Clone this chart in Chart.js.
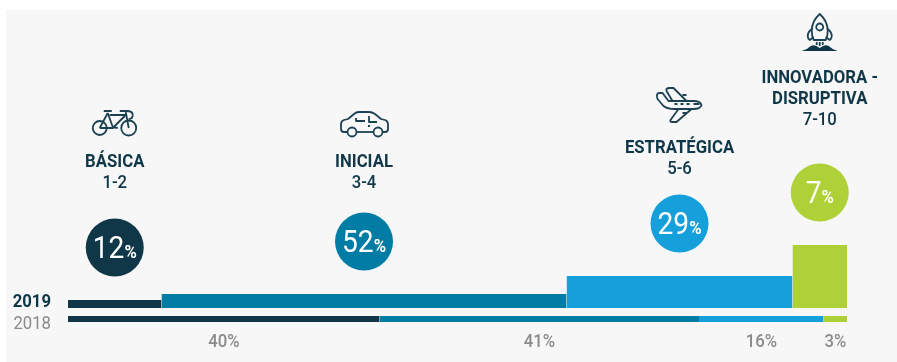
<!DOCTYPE html>
<html>
<head>
<meta charset="utf-8">
<script src="https://cdn.jsdelivr.net/npm/chart.js@4"></script>
<style>
    html, body { margin: 0; padding: 0; background: #fff; overflow: hidden; }
    #panel { position: absolute; left: 6px; top: 10px; right: 0; bottom: 0; background: #f7f7f7; }
    #wrap { position: absolute; left: 0; top: 0; width: 897px; height: 362px; }
</style>
</head>
<body>
<div id="panel"></div>
<div id="wrap"><canvas id="chart"></canvas></div>
<script>
const levels = ['BÁSICA', 'INICIAL', 'ESTRATÉGICA', 'INNOVADORA -|DISRUPTIVA'];
const ranges = ['1-2', '3-4', '5-6', '7-10'];
const years = ['2019', '2018'];
const shares2019 = [12, 52, 29, 7];
const shares2018 = [40, 41, 16, 3];
const heights2019 = [8, 14, 32, 63];
const colors = ['#0f3748', '#007ca5', '#159fdb', '#add136'];

const DARK = '#0f3748';
const GREY = '#8b8b8b';
const FONT = 'Roboto, sans-serif';
const NARROW = 0.88;

// the 2018 strip hangs under the baseline
const strip2018Top = -8;
const strip2018Bottom = -14;
const circleGap = 52.5;

// baseline of the first heading line per level, in canvas pixels
const headingY = [167, 167, 153, 83];

function edges(shares) {
    let sum = 0;
    return shares.map(function (s) {
        const from = sum;
        sum += s;
        return [from, sum];
    });
}

// text squeezed horizontally, the installed faces run wide
function narrowText(ctx, str, x, y, align) {
    ctx.save();
    ctx.translate(x, y);
    ctx.scale(NARROW, 1);
    ctx.textAlign = align || 'center';
    ctx.fillText(str, 0, 0);
    ctx.restore();
}

const datasets = [];

edges(shares2019).forEach(function (e, i) {
    datasets.push({
        data: [{ x: e[0], y: heights2019[i] }, { x: e[1], y: heights2019[i] }],
        backgroundColor: colors[i],
        borderWidth: 0,
        pointRadius: 0,
        fill: { value: 0 }
    });
});

edges(shares2018).forEach(function (e, i) {
    datasets.push({
        data: [{ x: e[0], y: strip2018Top }, { x: e[1], y: strip2018Top }],
        backgroundColor: colors[i],
        borderWidth: 0,
        pointRadius: 0,
        fill: { value: strip2018Bottom }
    });
});

// value bubbles sit over the middle of each 2019 block
datasets.push({
    data: edges(shares2019).map(function (e, i) {
        return { x: (e[0] + e[1]) / 2, y: heights2019[i] + circleGap };
    }),
    showLine: false,
    clip: false,
    pointRadius: 29,
    pointHoverRadius: 29,
    pointBorderWidth: 0,
    pointBackgroundColor: colors,
    pointBorderColor: colors
});

// line icons, drawn around their own centre
const icons = [
    {
        y: 122,
        paths: [
            'M-8 6a7 7 0 1 0 -14 0a7 7 0 1 0 14 0z',
            'M21.5 6a7.5 7.5 0 1 0 -15 0a7.5 7.5 0 1 0 15 0z',
            'M-15 6L-7 -9M-7 -9L-2 5M-15 6H-2L11 -7H-5M-2 5L3 6',
            'M11 -10L14 6M-11 -11H-3M5 -11H12Q18 -11 18 -7Q18 -3 14 -3'
        ]
    },
    {
        y: 124,
        paths: [
            'M-17 8H-20Q-23 8 -23 5V0Q-23 -3 -20 -4L-16 -5L-10 -10Q-8 -12 -5 -12H5Q8 -12 11 -10L17 -5L21 -4Q24 -3 24 1V5Q24 8 21 8H19',
            'M-7 8H9',
            'M-7.5 8a4.5 4.5 0 1 0 -9 0a4.5 4.5 0 1 0 9 0z',
            'M18.5 8a4.5 4.5 0 1 0 -9 0a4.5 4.5 0 1 0 9 0z',
            'M-8 -6V-3H1M5 -8V-2H13M4 2H6'
        ]
    },
    {
        y: 104,
        paths: [
            'M-11 -3H14Q21 -3 22 1Q21 5 14 5H-5Q-12 5 -16 2L-22 -5Q-24 -11 -20 -11H-17Z',
            'M-7 -3L-13 -13Q-14 -16 -10 -16H-6L7 -3',
            'M-1 5L-9 16Q-10 18 -7 18H-3L12 5',
            'M3 -9H7M7 9H3',
            'M-5 0H-2M1 0H4M7 0H10M14 0H20'
        ]
    },
    {
        y: 32,
        paths: [
            'M0 -18Q8 -11 8 -1Q8 4 6 8H-6Q-8 4 -8 -1Q-8 -11 0 -18Z',
            'M3.5 -5a3.5 3.5 0 1 0 -7 0a3.5 3.5 0 1 0 7 0z',
            'M-8 -3Q-12 0 -12 4Q-12 7 -10 8L-6 5M8 -3Q12 0 12 4Q12 7 10 8L6 5',
            'M-3 10V13M0 10V14M3 10V13'
        ],
        filled: 'M-18 19Q-13 18 -9 14Q-5 12 0 16Q5 12 9 14Q13 18 18 19Z'
    }
];

// icons, headings and value text placed from the x scale
const labelsPlugin = {
    id: 'levelLabels',
    afterDraw: function (chart) {
        const ctx = chart.ctx;
        const x = chart.scales.x;
        const y = chart.scales.y;
        ctx.save();
        ctx.textBaseline = 'alphabetic';

        edges(shares2019).forEach(function (e, i) {
            const cx = x.getPixelForValue((e[0] + e[1]) / 2);
            const cy = y.getPixelForValue(heights2019[i] + circleGap);

            // icon
            ctx.save();
            ctx.translate(cx, icons[i].y);
            ctx.strokeStyle = '#1b4153';
            ctx.lineWidth = 1.8;
            ctx.lineJoin = 'round';
            icons[i].paths.forEach(function (p) { ctx.stroke(new Path2D(p)); });
            if (icons[i].filled) {
                ctx.fillStyle = DARK;
                ctx.fill(new Path2D(icons[i].filled));
            }
            ctx.restore();

            // heading and range
            let lineY = headingY[i];
            ctx.fillStyle = DARK;
            ctx.font = 'bold 19px ' + FONT;
            levels[i].split('|').forEach(function (line) {
                narrowText(ctx, line, cx, lineY);
                lineY += 21;
            });
            ctx.font = '500 19px ' + FONT;
            narrowText(ctx, ranges[i], cx, lineY);

            // value inside the bubble
            const big = String(shares2019[i]);
            ctx.fillStyle = '#fff';
            ctx.font = '32px ' + FONT;
            const bigWidth = ctx.measureText(big).width * NARROW;
            ctx.font = 'bold 19px ' + FONT;
            const pctWidth = ctx.measureText('%').width * NARROW;
            const left = cx - (bigWidth + pctWidth) / 2;
            narrowText(ctx, '%', left + bigWidth, cy + 10, 'left');
            ctx.font = '32px ' + FONT;
            narrowText(ctx, big, left, cy + 10, 'left');
        });

        // 2018 shares under the strip
        ctx.fillStyle = GREY;
        ctx.font = '500 19px ' + FONT;
        edges(shares2018).forEach(function (e, i) {
            narrowText(ctx, shares2018[i] + '%', x.getPixelForValue((e[0] + e[1]) / 2), 347);
        });

        // year labels
        ctx.fillStyle = DARK;
        ctx.font = 'bold 19px ' + FONT;
        narrowText(ctx, years[0], 51, 307, 'right');
        ctx.fillStyle = GREY;
        ctx.font = '19px ' + FONT;
        narrowText(ctx, years[1], 51, 329, 'right');
        ctx.restore();
    }
};

new Chart(document.getElementById('chart'), {
    type: 'line',
    data: { datasets: datasets },
    options: {
        responsive: true,
        maintainAspectRatio: false,
        animation: false,
        events: [],
        // large bubbles reserve 29px above and below the plot anyway
        layout: { padding: { left: 68, right: 50, top: 29, bottom: 29 } },
        plugins: {
            legend: { display: false },
            tooltip: { enabled: false }
        },
        scales: {
            x: { type: 'linear', min: 0, max: 100, display: false },
            y: { type: 'linear', min: -25, max: 279, display: false }
        }
    },
    plugins: [labelsPlugin]
});
</script>
</body>
</html>
